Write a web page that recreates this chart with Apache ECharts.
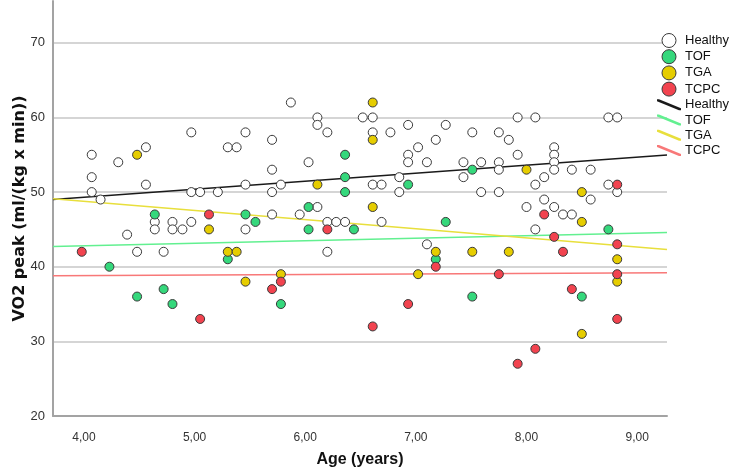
<!DOCTYPE html>
<html>
<head>
<meta charset="utf-8">
<script src="https://cdn.jsdelivr.net/npm/echarts@6/dist/echarts.min.js"></script>
<style>
html,body{margin:0;padding:0;background:#fff;}
#c{width:749px;height:470px;}
</style>
</head>
<body>
<div id="c"></div>
<script>
// ---- data ----
const groupNames = ['Healthy', 'TOF', 'TGA', 'TCPC'];
const healthy = [
  [4.07,55],[4.07,52],[4.07,50],[4.15,49],[4.31,54],[4.56,56],[4.56,51],[4.97,58],[4.97,50],[5.05,50],
  [5.21,50],[5.30,56],[5.38,56],[5.46,58],[5.46,51],[4.64,46],[4.64,45],[4.80,46],[4.80,45],[4.89,45],
  [4.97,46],[5.46,45],[4.39,44.3],[4.48,42],[4.72,42],
  [5.87,62],[6.11,60],[6.11,59],[6.20,58],[6.52,60],[6.61,60],[6.61,58],[6.77,58],[6.93,59],[7.27,59],
  [5.70,57],[7.18,57],[7.02,56],[6.93,55],[6.03,54],[6.93,54],[7.10,54],[5.70,53],[6.85,52],[5.78,51],
  [6.61,51],[6.69,51],[5.70,50],[6.85,50],[6.11,48],[5.70,47],[5.95,47],[6.20,46],[6.28,46],[6.36,46],
  [6.69,46],[6.20,42],[7.10,43],
  [7.92,60],[8.08,60],[8.74,60],[8.82,60],[7.51,58],[7.75,58],[7.84,57],[8.25,56],[7.92,55],[8.25,55],
  [7.43,54],[7.59,54],[7.75,54],[8.25,54],[7.75,53],[8.25,53],[8.41,53],[8.58,53],[7.43,52],[8.08,51],
  [8.16,52],[8.74,51],[7.59,50],[7.75,50],[8.82,50],[8.16,49],[8.58,49],[8.00,48],[8.25,48],[8.33,47],
  [8.41,47],[8.08,45]
];
const tof = [
  [4.64,47],[5.46,47],[5.55,46],[5.30,41],[4.23,40],[4.72,37],[4.48,36],[4.80,35],[6.36,55],[6.36,52],
  [6.36,50],[6.93,51],[6.03,48],[6.03,45],[6.44,45],[7.27,46],[7.18,41],[5.78,35],[7.51,53],[8.74,45],
  [7.51,36],[8.50,36]
];
const tga = [
  [4.48,55],[5.13,45],[5.30,42],[5.38,42],[5.46,38],[6.61,62],[6.61,57],[6.11,51],[6.61,48],[7.18,42],
  [5.78,39],[7.02,39],[8.00,53],[8.50,50],[8.50,46],[7.51,42],[7.84,42],[8.82,41],[8.82,38],[8.50,31]
];
const tcpc = [
  [3.98,42],[5.13,47],[5.05,33],[6.20,45],[7.18,40],[5.78,38],[5.70,37],[6.93,35],[6.61,32],[8.82,51],
  [8.16,47],[8.25,44],[8.33,42],[8.82,43],[7.75,39],[8.82,39],[8.41,37],[8.82,33],[8.08,29],[7.92,27]
];
// linear fit lines (intercept, slope) per group
const fitIntercept = [45.0, 41.46, 53.66, 38.51];
const fitSlope = [1.074, 0.337, -1.226, 0.074];
const xTicks = [4, 5, 6, 7, 8, 9];
const xRange = [3.72, 9.27];
const yRange = [20, 75.6];

// ---- styles ----
const pointColors = ['#ffffff', '#35d87c', '#e6cd00', '#f2434f'];
const lineColors = ['#1a1a1a', '#62f090', '#e8df3c', '#f87878'];
const groups = [healthy, tof, tga, tcpc];

const series = [];
groups.forEach((g, i) => {
  series.push({
    name: groupNames[i],
    type: 'scatter',
    data: g,
    symbol: 'circle',
    symbolSize: 9,
    z: 3,
    itemStyle: { color: pointColors[i], borderColor: '#3a3a3a', borderWidth: 1, opacity: 1 },
    emphasis: { disabled: true }
  });
});
groups.forEach((g, i) => {
  const f = x => fitIntercept[i] + fitSlope[i] * x;
  series.push({
    name: groupNames[i] + ' ',
    type: 'line',
    data: [[xRange[0], f(xRange[0])], [xRange[1], f(xRange[1])]],
    showSymbol: false,
    symbol: 'none',
    z: 2,
    color: lineColors[i],
    lineStyle: { color: lineColors[i], width: 1.5 },
    emphasis: { disabled: true }
  });
});

const diagIcon = 'path://M0,0 L2,0 L24,9 L24,11 L22,11 L0,2 Z';
const legendData = groupNames.map((n, i) => ({
  name: n, icon: 'circle',
  itemStyle: { color: pointColors[i], borderColor: '#3a3a3a', borderWidth: 1 }
})).concat(groupNames.map((n, i) => ({
  name: n + ' ', icon: diagIcon,
  itemStyle: { color: lineColors[i], borderWidth: 0 }
})));

const chart = echarts.init(document.getElementById('c'), null, { renderer: 'canvas' });
chart.setOption({
  animation: false,
  backgroundColor: '#fff',
  textStyle: { fontFamily: 'Liberation Sans, Arial, sans-serif' },
  grid: { left: 53, right: 82, top: 1, bottom: 54, containLabel: false, outerBoundsMode: 'none' },
  legend: {
    orient: 'vertical',
    left: 652,
    top: 28,
    itemWidth: 24,
    itemHeight: 14,
    itemGap: 1.2,
    data: legendData,
    formatter: n => n.trim(),
    textStyle: { fontSize: 13, lineHeight: 14, color: '#111', fontFamily: 'Liberation Sans, Arial, sans-serif', padding: [0, 0, 0, -1] },
    selectedMode: false
  },
  xAxis: {
    type: 'value',
    min: xRange[0],
    max: xRange[1],
    name: 'Age (years)',
    nameLocation: 'middle',
    nameGap: 36,
    nameMoveOverlap: false,
    nameTextStyle: { fontSize: 16, fontWeight: 'bold', color: '#111', fontFamily: 'Liberation Sans, Arial, sans-serif' },
    axisLine: { show: true, lineStyle: { color: '#a3a3a3', width: 2 } },
    axisTick: { show: false },
    splitLine: { show: false },
    axisLabel: {
      customValues: xTicks,
      formatter: v => v.toFixed(2).replace('.', ','),
      fontSize: 12, color: '#333', margin: 16
    }
  },
  yAxis: {
    type: 'value',
    min: yRange[0],
    max: yRange[1],
    interval: 10,
    name: 'VO2 peak (ml/(kg x min))',
    nameLocation: 'middle',
    nameGap: 25,
    nameMoveOverlap: false,
    nameTextStyle: { fontSize: 16, fontWeight: 'bold', color: '#111', fontFamily: 'DejaVu Sans, sans-serif' },
    axisLine: { show: true, lineStyle: { color: '#a3a3a3', width: 2 } },
    axisTick: { show: false },
    splitLine: { show: true, showMaxLine: false, showMinLine: false, lineStyle: { color: '#d5d5d5', width: 2 } },
    axisLabel: { showMaxLabel: false, fontSize: 13, color: '#333', margin: 8,
      formatter: v => (v % 10 === 0 ? String(v) : '') }
  },
  series: series
});
</script>
</body>
</html>
